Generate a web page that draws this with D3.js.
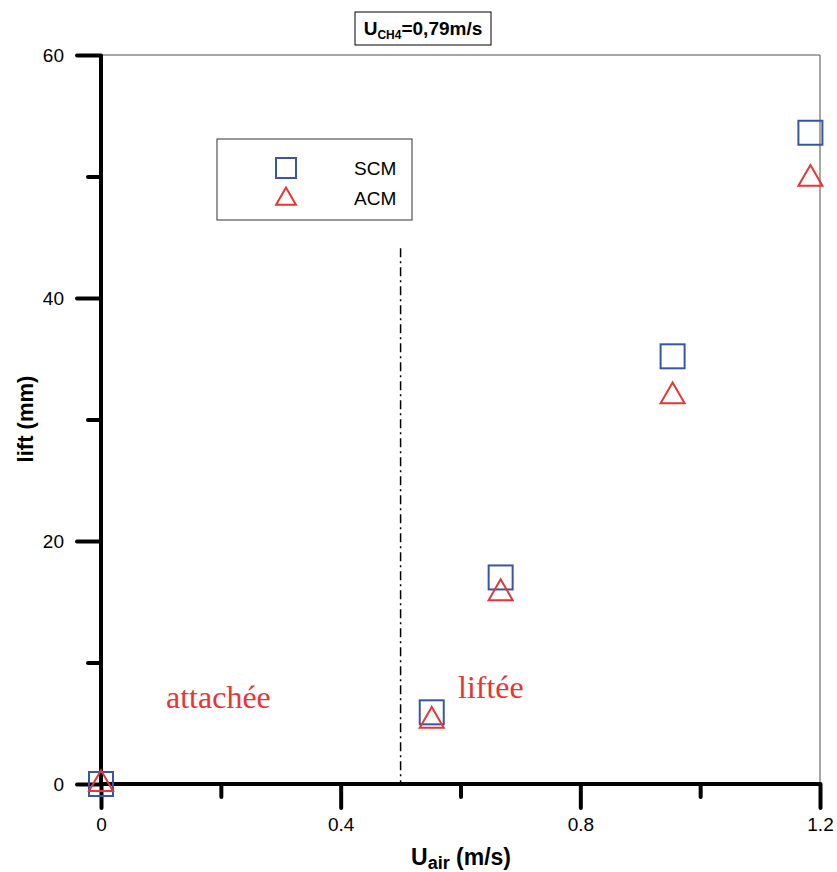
<!DOCTYPE html>
<html><head><meta charset="utf-8">
<script src="https://cdn.jsdelivr.net/npm/d3@7"></script>
<style>body{margin:0;background:#fff}svg{display:block}</style>
</head><body>
<script>
const uAir = [0, 0.552, 0.667, 0.954, 1.184];
const scm = [0, 5.9, 17.0, 35.2, 53.6];
const acm = [0, 5.2, 15.7, 31.9, 49.8];
const xMajor = [0, 0.4, 0.8, 1.2];
const xMinor = [0.2, 0.6, 1.0];
const yMajor = [0, 20, 40, 60];
const yMinor = [10, 30, 50];
const transitionX = 0.5, transitionTop = 44.1;

const W = 837, H = 872;
const svg = d3.select("body").append("svg").attr("width", W).attr("height", H);
const x = d3.scaleLinear().domain([0, 1.2]).range([101, 820]);
const y = d3.scaleLinear().domain([0, 60]).range([784, 55]);
const font = "Liberation Sans, Arial, sans-serif";
const serif = "Liberation Serif, Times New Roman, serif";

// frame (thin gray top/right)
svg.append("line").attr("x1", x(0)).attr("x2", x(1.2)).attr("y1", y(60)).attr("y2", y(60)).attr("stroke", "#888").attr("stroke-width", 1.5);
svg.append("line").attr("x1", x(1.2)).attr("x2", x(1.2)).attr("y1", y(60)).attr("y2", y(0)).attr("stroke", "#888").attr("stroke-width", 1.5);

// X axis
const xg = svg.append("g").attr("transform", `translate(0,${y(0)})`);
xg.call(d3.axisBottom(x).tickValues(xMajor).tickSize(24).tickPadding(10).tickFormat(d => d === 0 ? "0" : d3.format(".1f")(d)));
xg.append("g").call(d3.axisBottom(x).tickValues(xMinor).tickSize(13).tickFormat(""));
xg.selectAll(".domain").remove();
xg.selectAll("line").attr("stroke", "#000").attr("stroke-width", 4).attr("stroke-linecap", "round");
xg.selectAll("text").attr("font-family", font).attr("font-size", 19).attr("fill", "#000");
xg.append("line").attr("x1", x(0)).attr("x2", x(1.2)).attr("stroke", "#000").attr("stroke-width", 4);

// Y axis
const yg = svg.append("g").attr("transform", `translate(${x(0)},0)`);
yg.call(d3.axisLeft(y).tickValues(yMajor).tickSize(24).tickPadding(13).tickFormat(d3.format("d")));
yg.append("g").call(d3.axisLeft(y).tickValues(yMinor).tickSize(13).tickFormat(""));
yg.selectAll(".domain").remove();
yg.selectAll("line").attr("stroke", "#000").attr("stroke-width", 4).attr("stroke-linecap", "round");
yg.selectAll("text").attr("font-family", font).attr("font-size", 19).attr("fill", "#000");
yg.append("line").attr("y1", y(0)).attr("y2", y(60)).attr("stroke", "#000").attr("stroke-width", 4);

// transition line
svg.append("line").attr("x1", x(transitionX)).attr("x2", x(transitionX))
  .attr("y1", y(transitionTop)).attr("y2", y(0))
  .attr("stroke", "#000").attr("stroke-width", 1.5).attr("stroke-dasharray", "9,4,2,4");

// markers
const sq = 24;
svg.append("g").selectAll("rect").data(uAir.map((u, i) => [u, scm[i]])).join("rect")
  .attr("x", d => x(d[0]) - sq / 2).attr("y", d => y(d[1]) - sq / 2)
  .attr("width", sq).attr("height", sq)
  .attr("fill", "none").attr("stroke", "#3a55a3").attr("stroke-width", 2);
const tri = d3.symbol().type(d3.symbolTriangle).size(250);
svg.append("g").selectAll("path").data(uAir.map((u, i) => [u, acm[i]])).join("path")
  .attr("d", tri).attr("transform", d => `translate(${x(d[0])},${y(d[1])})`)
  .attr("fill", "none").attr("stroke", "#e83535").attr("stroke-width", 2);

// region labels
svg.append("text").attr("x", 166).attr("y", 708).text("attachée")
  .attr("font-family", serif).attr("font-size", 32).attr("fill", "#e83535");
svg.append("text").attr("x", 458).attr("y", 698).text("liftée")
  .attr("font-family", serif).attr("font-size", 32).attr("fill", "#e83535");

// legend
svg.append("rect").attr("x", 217).attr("y", 139).attr("width", 195).attr("height", 81)
  .attr("fill", "#fff").attr("stroke", "#333").attr("stroke-width", 1);
svg.append("rect").attr("x", 286 - 10).attr("y", 168 - 10).attr("width", 20).attr("height", 20)
  .attr("fill", "none").attr("stroke", "#3a55a3").attr("stroke-width", 2);
svg.append("path").attr("d", d3.symbol().type(d3.symbolTriangle).size(170)).attr("transform", "translate(286,199)")
  .attr("fill", "none").attr("stroke", "#e83535").attr("stroke-width", 2);
svg.append("text").attr("x", 354).attr("y", 175).text("SCM").attr("font-family", font).attr("font-size", 19);
svg.append("text").attr("x", 354).attr("y", 205).text("ACM").attr("font-family", font).attr("font-size", 19);

// title box
svg.append("rect").attr("x", 355).attr("y", 12).attr("width", 136).attr("height", 33)
  .attr("fill", "#fff").attr("stroke", "#000").attr("stroke-width", 1);
const tt = svg.append("text").attr("x", 423).attr("y", 35).attr("text-anchor", "middle")
  .attr("font-family", font).attr("font-weight", "bold").attr("font-size", 19);
tt.append("tspan").text("U");
tt.append("tspan").attr("font-size", 12).attr("dy", 4).text("CH4");
tt.append("tspan").attr("dy", -4).text("=0,79m/s");

// axis titles
const xt = svg.append("text").attr("x", 461).attr("y", 865).attr("text-anchor", "middle")
  .attr("font-family", font).attr("font-weight", "bold").attr("font-size", 23);
xt.append("tspan").text("U");
xt.append("tspan").attr("font-size", 18).attr("dy", 4).text("air");
xt.append("tspan").attr("dy", -4).text(" (m/s)");

svg.append("text").attr("transform", "translate(33,419) rotate(-90)").attr("text-anchor", "middle")
  .attr("font-family", font).attr("font-weight", "bold").attr("font-size", 22).text("lift (mm)");
</script>
</body></html>
